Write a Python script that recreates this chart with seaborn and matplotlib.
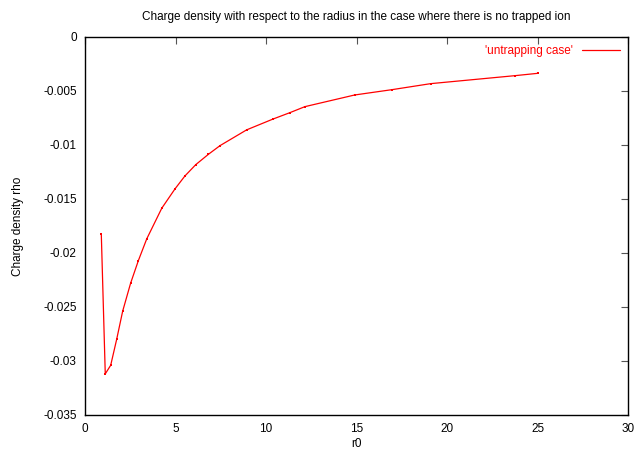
import numpy as np
import pandas as pd
import matplotlib
matplotlib.use("Agg")
import matplotlib.pyplot as plt
import seaborn as sns

# values
r0 = [0.9, 1.12, 1.42, 1.75, 2.08, 2.52, 2.95, 3.41, 4.24, 4.97, 5.52, 6.12,
      6.82, 7.46, 8.93, 10.4, 11.33, 12.15, 14.9, 16.95, 19.1, 23.76, 25.04]
rho = [-0.0182, -0.0312, -0.0304, -0.0280, -0.0254, -0.0228, -0.0207, -0.0187,
       -0.01586, -0.01407, -0.01287, -0.01182, -0.01086, -0.01006, -0.0086,
       -0.00759, -0.0070, -0.00645, -0.00537, -0.00488, -0.00432, -0.00358,
       -0.00336]

df = pd.DataFrame({"r0": r0, "rho": rho})

sns.set_style("white")
plt.rcParams["font.family"] = ["Liberation Sans", "DejaVu Sans"]
plt.rcParams["font.size"] = 8.5
plt.rcParams["text.color"] = "black"
plt.rcParams["axes.labelcolor"] = "black"
plt.rcParams["xtick.labelcolor"] = "black"
plt.rcParams["ytick.labelcolor"] = "black"

fig = plt.figure(figsize=(6.39, 4.51), dpi=100)
ax = fig.add_axes([0.133, 0.080, 0.850, 0.838])

sns.lineplot(data=df, x="r0", y="rho", ax=ax, sort=False, estimator=None,
             color="red", linewidth=0.9, marker="s", markersize=1.8,
             markeredgewidth=0, label="'untrapping case'")

ax.set_xlim(0, 30)
ax.set_ylim(-0.035, 0)
ax.set_xticks(np.arange(0, 31, 5))
ax.set_yticks(np.arange(-0.035, 0.0001, 0.005))
ax.set_yticklabels(["-0.035", "-0.03", "-0.025", "-0.02", "-0.015", "-0.01", "-0.005", "0"])
ax.tick_params(direction="in", length=5, width=0.8, top=True, right=True,
               labelsize=8.5, pad=6, color="#555555")
for s in ax.spines.values():
    s.set_color("black")
    s.set_linewidth(1.0)

ax.set_xlabel("r0", fontsize=8.5, labelpad=2)
ax.set_ylabel("Charge density rho", fontsize=8.5, labelpad=14)
ax.set_title("Charge density with respect to the radius in the case where there is no trapped ion",
             fontsize=8.5, pad=12)

leg = ax.legend(loc="upper right", frameon=False, markerfirst=False, labelcolor="red",
                fontsize=8.5, handlelength=3.2, borderaxespad=0.3)
for h in leg.legend_handles:
    h.set_marker("")

fig.savefig("out.png", dpi=100)
